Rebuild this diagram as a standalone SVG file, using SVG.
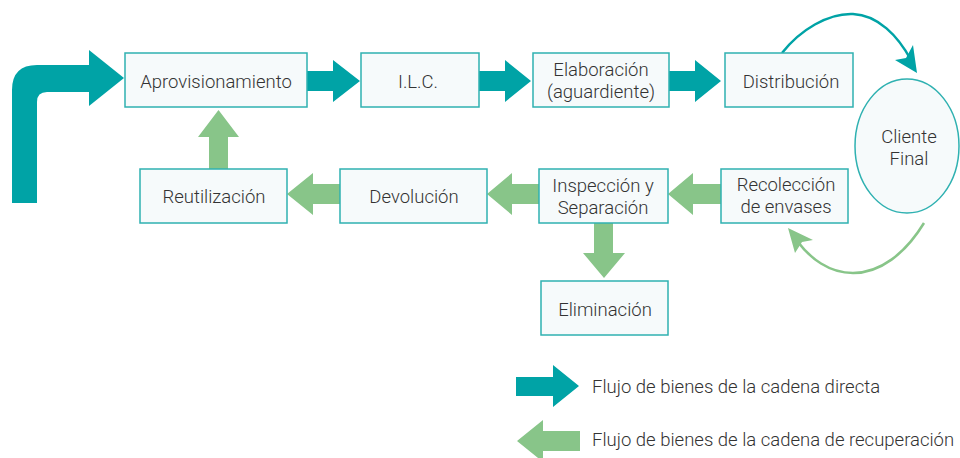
<svg xmlns="http://www.w3.org/2000/svg" width="960" height="458" viewBox="0 0 960 458">
<style>
.box{fill:#f6fafb;stroke:#2fb1b1;stroke-width:1.5}
.t{font-family:Roboto,"Liberation Sans",sans-serif;font-size:18.5px;font-weight:300;fill:#333;text-anchor:middle}
.lt{font-family:Roboto,"Liberation Sans",sans-serif;font-size:18.5px;font-weight:300;fill:#333}
.teal{fill:#00a3a6}
.green{fill:#88c589}
</style>
<rect width="960" height="458" fill="#ffffff"/>
<g id="connectors">
<path class="teal" d="M12,203 L12,90 Q12,65 37,65 L89,65 L89,50 L124,78 L89,106 L89,92 L47,92 Q37,92 37,102 L37,203 Z"/>
<path class="teal" d="M307,71 L333,71 L333,60 L360,81 L333,102 L333,91 L307,91 Z"/>
<path class="teal" d="M479,71 L505,71 L505,60 L531,81 L505,102 L505,91 L479,91 Z"/>
<path class="teal" d="M669,71 L695,71 L695,60 L721,81 L695,102 L695,91 L669,91 Z"/>
<path d="M782,53 C800,30 828,13 853,14 C878,15 898,36 911,60" fill="none" stroke="#00a3a6" stroke-width="2.5"/>
<path class="teal" d="M917,73 L895,60 L906,58 L913,45 Z"/>
<path class="green" d="M209,169 L209,137 L198,137 L218.5,110 L239,137 L228,137 L228,169 Z"/>
<path class="green" d="M340,184 L313,184 L313,173 L287,194 L313,215 L313,204 L340,204 Z"/>
<path class="green" d="M539,184 L512,184 L512,173 L487,194 L512,215 L512,204 L539,204 Z"/>
<path class="green" d="M721,184 L693,184 L693,173 L668,194 L693,215 L693,204 L721,204 Z"/>
<path class="green" d="M594,223 L594,253 L583,253 L604,278 L625,253 L613,253 L613,223 Z"/>
<path d="M924,223 C905,254 880,273 853,273 C829,273 810,258 798,242" fill="none" stroke="#88c589" stroke-width="2.5"/>
<path class="green" d="M788,228 L813,240 L802,242 L795,253 Z"/>
</g>
<g id="aprovisionamiento"><rect class="box" x="125" y="53" width="182" height="54"/><text class="t" x="216" y="88">Aprovisionamiento</text></g>
<g id="ilc"><rect class="box" x="361" y="53" width="118" height="54"/><text class="t" x="418" y="88">I.L.C.</text></g>
<g id="elaboracion"><rect class="box" x="533" y="53" width="136" height="54"/><text class="t" x="601" y="76">Elaboración</text><text class="t" x="601" y="98">(aguardiente)</text></g>
<g id="distribucion"><rect class="box" x="725" y="53" width="128" height="54"/><text class="t" x="791" y="88">Distribución</text></g>
<g id="cliente"><ellipse class="box" cx="907" cy="146" rx="52" ry="67"/><text class="t" x="909" y="143">Cliente</text><text class="t" x="909" y="165">Final</text></g>
<g id="reutilizacion"><rect class="box" x="140" y="169" width="147" height="54"/><text class="t" x="214" y="203">Reutilización</text></g>
<g id="devolucion"><rect class="box" x="340" y="169" width="147" height="54"/><text class="t" x="414" y="203">Devolución</text></g>
<g id="inspeccion"><rect class="box" x="539" y="169" width="129" height="54"/><text class="t" x="603" y="192">Inspección y</text><text class="t" x="603" y="214">Separación</text></g>
<g id="recoleccion"><rect class="box" x="721" y="169" width="127" height="54"/><text class="t" x="786" y="191">Recolección</text><text class="t" x="786" y="213">de envases</text></g>
<g id="eliminacion"><rect class="box" x="541" y="281" width="127" height="54"/><text class="t" x="605" y="316">Eliminación</text></g>
<g id="legend">
<path class="teal" d="M516,377 L553,377 L553,365 L579,386 L553,407 L553,396 L516,396 Z"/>
<text class="lt" x="592" y="393">Flujo de bienes de la cadena directa</text>
<path class="green" d="M580,431 L543,431 L543,420 L517,441 L543,462 L543,451 L580,451 Z"/>
<text class="lt" x="592" y="446">Flujo de bienes de la cadena de recuperación</text>
</g>
</svg>
